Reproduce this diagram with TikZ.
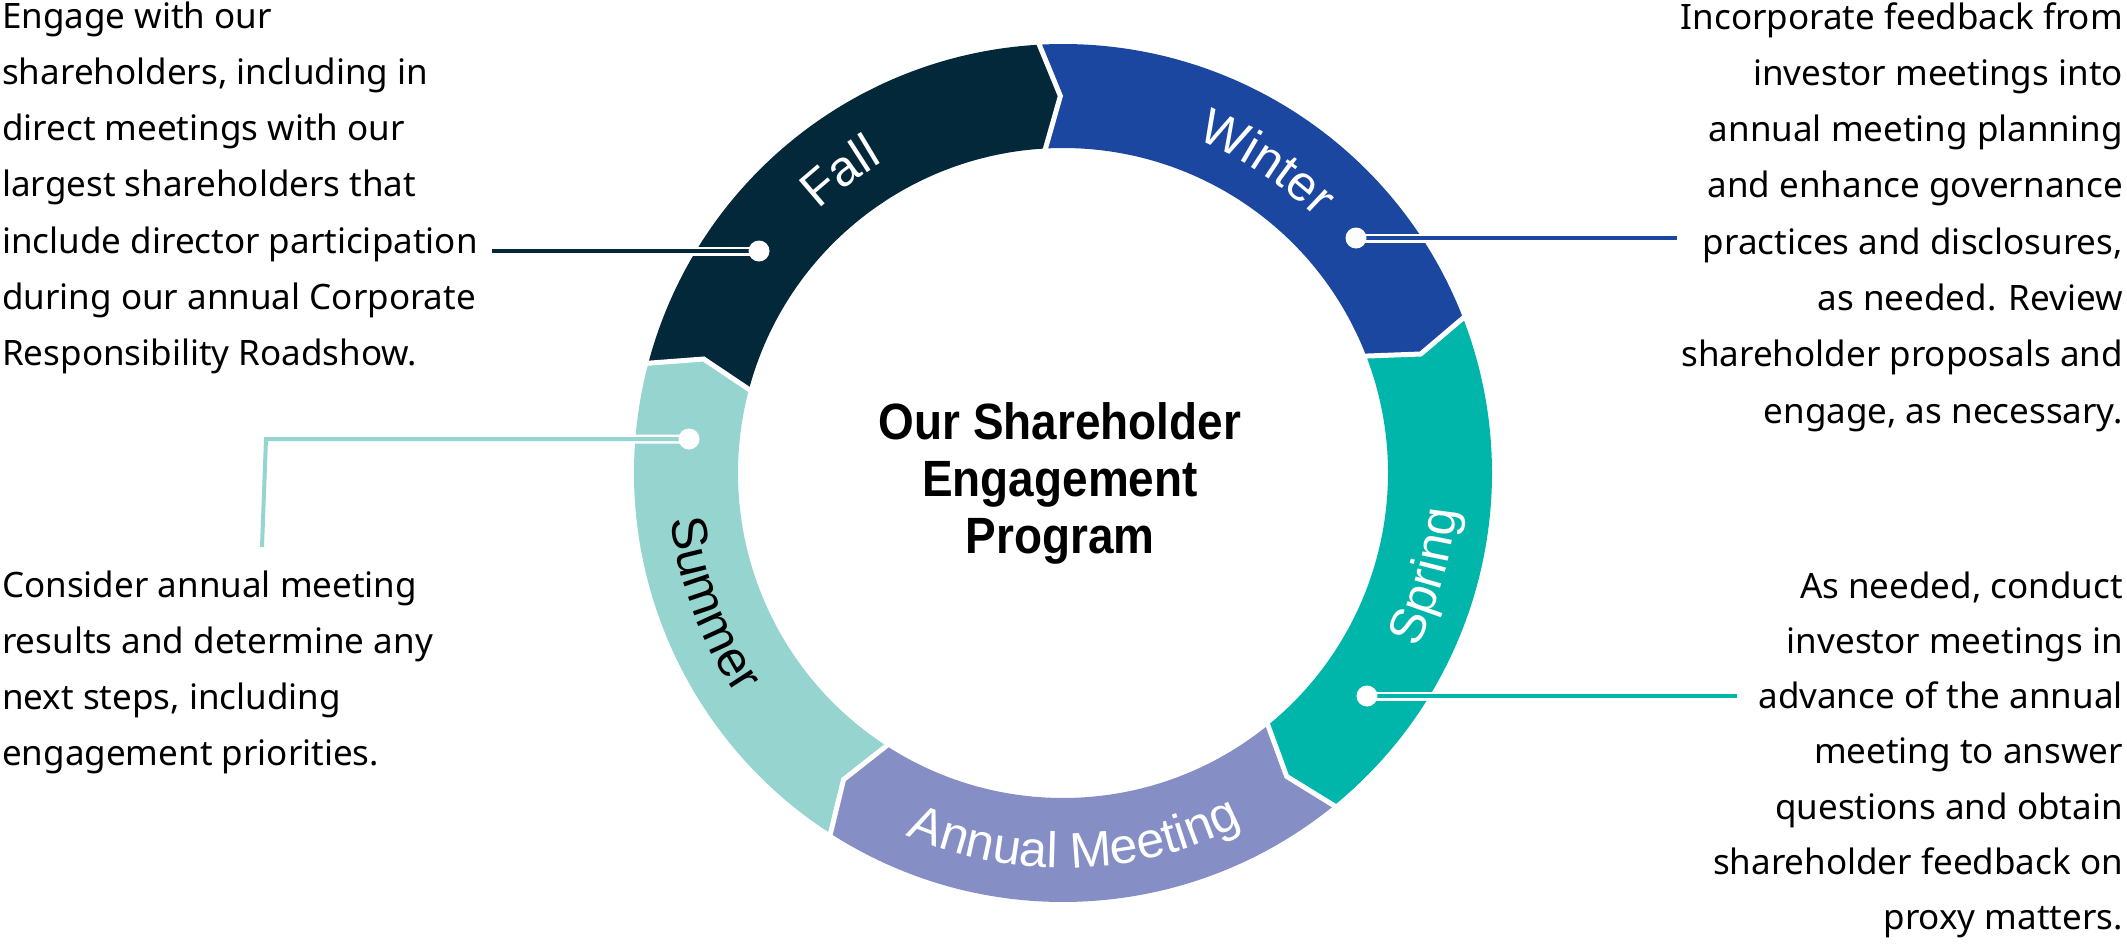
\documentclass[tikz,border=0pt]{standalone}
\usepackage{fontspec}
\setmainfont{Noto Sans}
\newfontfamily\labelfamily{Liberation Sans}
\newfontfamily\titlefamily[FakeStretch=0.9]{Liberation Sans}
\usetikzlibrary{decorations.text}
\definecolor{fallc}{RGB}{3,40,58}
\definecolor{winterc}{RGB}{27,71,160}
\definecolor{springc}{RGB}{0,181,170}
\definecolor{amc}{RGB}{133,142,197}
\definecolor{summerc}{RGB}{150,213,207}
\newcommand\lblfmt{\labelfamily\fontsize{50}{60}\selectfont}
\tikzset{
  gapline/.style={draw=white, line width=5pt, line join=miter},
  conn/.style={draw=#1, line width=4pt, preaction={draw=white, line width=9pt}},
  dotnode/.style={circle, fill=white, minimum size=21pt, inner sep=0pt},
  bodytext/.style={inner sep=0pt, font=\fontsize{35}{56.3}\selectfont},
  titletext/.style={inner sep=0pt, font=\titlefamily\bfseries\fontsize{51}{57}\selectfont},
}
\begin{document}
\begin{tikzpicture}[x=1pt,y=1pt]
\useasboundingbox (0,0) rectangle (2127,-945);

\begin{scope}[shift={(1063,-473)}]
% ring segments
\fill[fallc] (165.4:429) arc[start angle=165.4, end angle=93.4, radius=429] -- (90.4:377) -- (93.4:325) arc[start angle=93.4, end angle=165.4, radius=325] -- (162.4:377) -- cycle;
\fill[winterc] (93.4:429) arc[start angle=93.4, end angle=21.4, radius=429] -- (18.4:377) -- (21.4:325) arc[start angle=21.4, end angle=93.4, radius=325] -- (90.4:377) -- cycle;
\fill[springc] (21.4:429) arc[start angle=21.4, end angle=-50.6, radius=429] -- (-53.6:377) -- (-50.6:325) arc[start angle=-50.6, end angle=21.4, radius=325] -- (18.4:377) -- cycle;
\fill[amc] (-50.6:429) arc[start angle=-50.6, end angle=-122.6, radius=429] -- (-125.6:377) -- (-122.6:325) arc[start angle=-122.6, end angle=-50.6, radius=325] -- (-53.6:377) -- cycle;
\fill[summerc] (-122.6:429) arc[start angle=-122.6, end angle=-194.6, radius=429] -- (-197.6:377) -- (-194.6:325) arc[start angle=-194.6, end angle=-122.6, radius=325] -- (-125.6:377) -- cycle;
% white gaps
\draw[gapline] (93.4:434) -- (90.4:377) -- (93.4:320);
\draw[gapline] (21.4:434) -- (18.4:377) -- (21.4:320);
\draw[gapline] (-50.6:434) -- (-53.6:377) -- (-50.6:320);
\draw[gapline] (-122.6:434) -- (-125.6:377) -- (-122.6:320);
\draw[gapline] (165.4:434) -- (162.4:377) -- (165.4:320);
% curved labels
\path[decorate, decoration={text along path, text align=center, text={|\lblfmt\color{white}|Fall}}]
  (166.5:359) arc[start angle=166.5, end angle=86.5, radius=359];
\path[decorate, decoration={text along path, text align=center, text={|\lblfmt\color{white}|Winter}}]
  (96.7:359) arc[start angle=96.7, end angle=16.7, radius=359];
\path[decorate, decoration={text along path, text align=center, text={|\lblfmt\color{white}|Spring}}]
  (-55.8:395) arc[start angle=-55.8, end angle=24.2, radius=395];
\path[decorate, decoration={text along path, text align=center, text={|\lblfmt\color{white}|Annual Meeting}}]
  (-128.2:395) arc[start angle=-128.2, end angle=-48.2, radius=395];
\path[decorate, decoration={text along path, text align=center, text={|\lblfmt\color{black}|Summer}}]
  (160.5:395) arc[start angle=160.5, end angle=240.5, radius=395];
\end{scope}

% connector points
\coordinate (fallpt) at (759,-251);
\coordinate (fallend) at (492,-251);
\coordinate (winterpt) at (1356,-238);
\coordinate (winterend) at (1677,-238);
\coordinate (springpt) at (1367,-696);
\coordinate (springend) at (1737,-696);
\coordinate (summerpt) at (689,-439);
\coordinate (summercorner) at (266,-439);
\coordinate (summerend) at (262,-547);

\draw[conn=fallc] (fallpt) -- (fallend);
\draw[conn=winterc] (winterpt) -- (winterend);
\draw[conn=springc] (springpt) -- (springend);
\draw[conn=summerc] (summerpt) -- (summercorner) -- (summerend);

\node[dotnode] (falldot) at (fallpt) {};
\node[dotnode] (winterdot) at (winterpt) {};
\node[dotnode] (springdot) at (springpt) {};
\node[dotnode] (summerdot) at (summerpt) {};

% centre title
\node[titletext, anchor=base] (title) at (1060,-439)
  {\begin{tabular}[t]{@{}c@{}}Our Shareholder\\Engagement\\Program\end{tabular}};

% text blocks
\node[bodytext, anchor=base west] (falltext) at (2,-28)
  {\begin{tabular}[t]{@{}l@{}}Engage with our\\shareholders, including in\\direct meetings with our\\largest shareholders that\\include director participation\\during our annual Corporate\\Responsibility Roadshow.\end{tabular}};
\node[bodytext, anchor=base east] (wintertext) at (2123,-29)
  {\begin{tabular}[t]{@{}r@{}}Incorporate feedback from\\investor meetings into\\annual meeting planning\\and enhance governance\\practices and disclosures,\\as needed. Review\\shareholder proposals and\\engage, as necessary.\end{tabular}};
\node[bodytext, anchor=base west] (summertext) at (2,-597)
  {\begin{tabular}[t]{@{}l@{}}Consider annual meeting\\results and determine any\\next steps, including\\engagement priorities.\end{tabular}};
\node[bodytext, anchor=base east, font=\fontsize{35}{55.3}\selectfont] (springtext) at (2123,-598)
  {\begin{tabular}[t]{@{}r@{}}As needed, conduct\\investor meetings in\\advance of the annual\\meeting to answer\\questions and obtain\\shareholder feedback on\\proxy matters.\end{tabular}};
\end{tikzpicture}
\end{document}
